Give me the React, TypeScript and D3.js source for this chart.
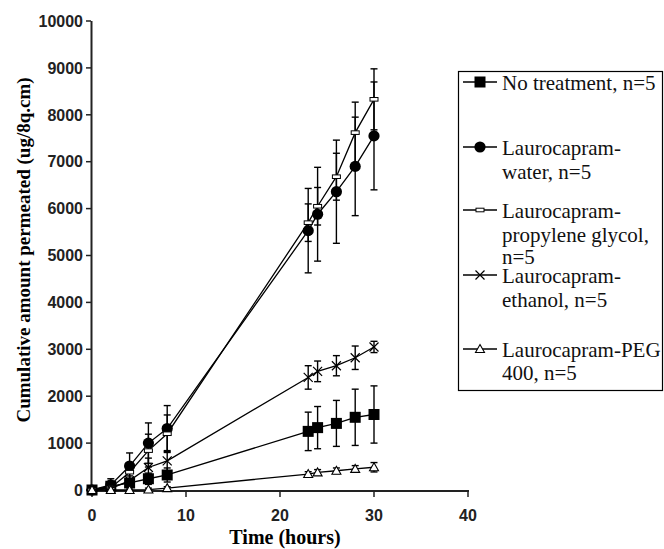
import React from "react";
import * as d3 from "d3";

// sampling times (hours)
const times = [0, 2, 4, 6, 8, 23, 24, 26, 28, 30];

// cumulative amount permeated, mean and SD per series
const noTreatment = [0, 80, 150, 240, 320, 1250, 1330, 1420, 1550, 1610];
const noTreatmentErr = [0, 60, 80, 120, 150, 410, 450, 490, 600, 610];
const water = [0, 110, 510, 1000, 1310, 5530, 5880, 6360, 6900, 7550];
const waterErr = [0, 130, 280, 430, 490, 900, 1000, 1100, 1050, 1150];
const propyleneGlycol = [0, 50, 380, 840, 1200, 5700, 6050, 6680, 7620, 8330];
const propyleneGlycolErr = [0, 60, 200, 350, 400, 400, 400, 500, 650, 650];
const ethanol = [0, 30, 200, 480, 620, 2400, 2530, 2650, 2820, 3050];
const ethanolErr = [0, 30, 100, 200, 220, 250, 220, 215, 250, 120];
const peg = [0, 0, 0, 10, 40, 340, 375, 410, 450, 485];
const pegErr = [0, 10, 20, 30, 30, 50, 60, 60, 70, 100];

const xTicks = [0, 10, 20, 30, 40];
const yTicks = [0, 1000, 2000, 3000, 4000, 5000, 6000, 7000, 8000, 9000, 10000];

const series = [
  { key: "nt", values: noTreatment, err: noTreatmentErr, marker: "square", label: ["No treatment, n=5"] },
  { key: "water", values: water, err: waterErr, marker: "circle", label: ["Laurocapram-", "water, n=5"] },
  { key: "pg", values: propyleneGlycol, err: propyleneGlycolErr, marker: "dash", label: ["Laurocapram-", "propylene glycol,", "n=5"] },
  { key: "eth", values: ethanol, err: ethanolErr, marker: "cross", label: ["Laurocapram-", "ethanol, n=5"] },
  { key: "peg", values: peg, err: pegErr, marker: "triangle", label: ["Laurocapram-PEG", "400, n=5"] },
];

// legend rows: marker y and the baselines of the text lines
const legendMarkerY = [82, 147, 210, 275, 349];
const legendLineY = [[90, null], [155, 179], [218, 242, 264], [283, 307], [357, 380]];

const Marker = ({ type, x, y }: { type: string; x: number; y: number }) => {
  if (type === "square") return <rect x={x - 5.5} y={y - 5.5} width={11} height={11} fill="#000" />;
  if (type === "circle") return <circle cx={x} cy={y} r={5.6} fill="#000" />;
  if (type === "dash") return <rect x={x - 4} y={y - 1.8} width={8} height={3.6} fill="#fff" stroke="#000" strokeWidth={1} />;
  if (type === "cross")
    return (
      <path d={`M${x - 4.5},${y - 4.5}L${x + 4.5},${y + 4.5}M${x - 4.5},${y + 4.5}L${x + 4.5},${y - 4.5}`} stroke="#000" strokeWidth={1.2} />
    );
  return <path d={`M${x},${y - 4.5}L${x + 4.5},${y + 3.5}L${x - 4.5},${y + 3.5}Z`} fill="#fff" stroke="#000" strokeWidth={1.1} />;
};

export default function App() {
  const width = 664;
  const height = 549;

  const xScale = d3.scaleLinear().domain([0, 40]).range([92, 468]);
  const yScale = d3.scaleLinear().domain([0, 10000]).range([490, 21]);

  const line = d3
    .line<number>()
    .x((_, i) => xScale(times[i]))
    .y((d) => yScale(d));

  const axisColor = "#222";

  return (
    <svg width={width} height={height} style={{ position: "absolute", left: 0, top: 0 }}>
      <rect width={width} height={height} fill="#fff" />

      {/* y axis */}
      <line x1={91.5} x2={91.5} y1={yScale(10000)} y2={yScale(0) + 1} stroke={axisColor} strokeWidth={2} />
      {yTicks.map((t) => (
        <g key={t}>
          <line x1={86} x2={91} y1={yScale(t)} y2={yScale(t)} stroke={axisColor} strokeWidth={1.5} />
          <text
            x={83}
            y={yScale(t)}
            dy="0.36em"
            textAnchor="end"
            fontFamily="'Liberation Sans', Arial, sans-serif"
            fontWeight="bold"
            fontSize={16}
            fill="#222"
          >
            {t}
          </text>
        </g>
      ))}

      {/* x axis */}
      <line x1={90.5} x2={469} y1={491} y2={491} stroke={axisColor} strokeWidth={2} />
      {xTicks.map((t) => (
        <g key={t}>
          <line x1={xScale(t)} x2={xScale(t)} y1={490} y2={497} stroke={axisColor} strokeWidth={1.5} />
          <text
            x={xScale(t)}
            y={521}
            textAnchor="middle"
            fontFamily="'Liberation Sans', Arial, sans-serif"
            fontWeight="bold"
            fontSize={16}
            fill="#222"
          >
            {t}
          </text>
        </g>
      ))}

      <text
        x={285}
        y={544}
        textAnchor="middle"
        fontFamily="'Liberation Serif', 'Times New Roman', serif"
        fontWeight="bold"
        fontSize={20}
      >
        Time (hours)
      </text>
      <text
        transform={`translate(30, 250) rotate(-90)`}
        textAnchor="middle"
        fontFamily="'Liberation Serif', 'Times New Roman', serif"
        fontWeight="bold"
        fontSize={19}
      >
        Cumulative amount permeated (ug/8q.cm)
      </text>

      {/* series */}
      {series.map((s) => (
        <g key={s.key}>
          <path d={line(s.values) || ""} fill="none" stroke="#000" strokeWidth={1.3} />
          {s.values.map((v, i) =>
            s.err[i] > 0 ? (
              <g key={i} stroke="#000" strokeWidth={1.4}>
                <line x1={xScale(times[i])} x2={xScale(times[i])} y1={yScale(v + s.err[i])} y2={yScale(v - s.err[i])} />
                <line x1={xScale(times[i]) - 3.5} x2={xScale(times[i]) + 3.5} y1={yScale(v + s.err[i])} y2={yScale(v + s.err[i])} />
                <line x1={xScale(times[i]) - 3.5} x2={xScale(times[i]) + 3.5} y1={yScale(v - s.err[i])} y2={yScale(v - s.err[i])} />
              </g>
            ) : null
          )}
          {s.values.map((v, i) => (
            <Marker key={i} type={s.marker} x={xScale(times[i])} y={yScale(v)} />
          ))}
        </g>
      ))}

      {/* legend */}
      <rect x={458.5} y={71.5} width={204} height={319} fill="#fff" stroke="#000" strokeWidth={1.2} />
      {series.map((s, i) => (
        <g key={s.key}>
          <line x1={463} x2={497} y1={legendMarkerY[i]} y2={legendMarkerY[i]} stroke="#000" strokeWidth={1.3} />
          <Marker type={s.marker} x={480} y={legendMarkerY[i]} />
          {s.label.map((l, j) => (
            <text
              key={j}
              x={502}
              y={legendLineY[i][j] as number}
              fontFamily="'Liberation Serif', 'Times New Roman', serif"
              fontSize={21}
              fill="#111"
            >
              {l}
            </text>
          ))}
        </g>
      ))}
    </svg>
  );
}
